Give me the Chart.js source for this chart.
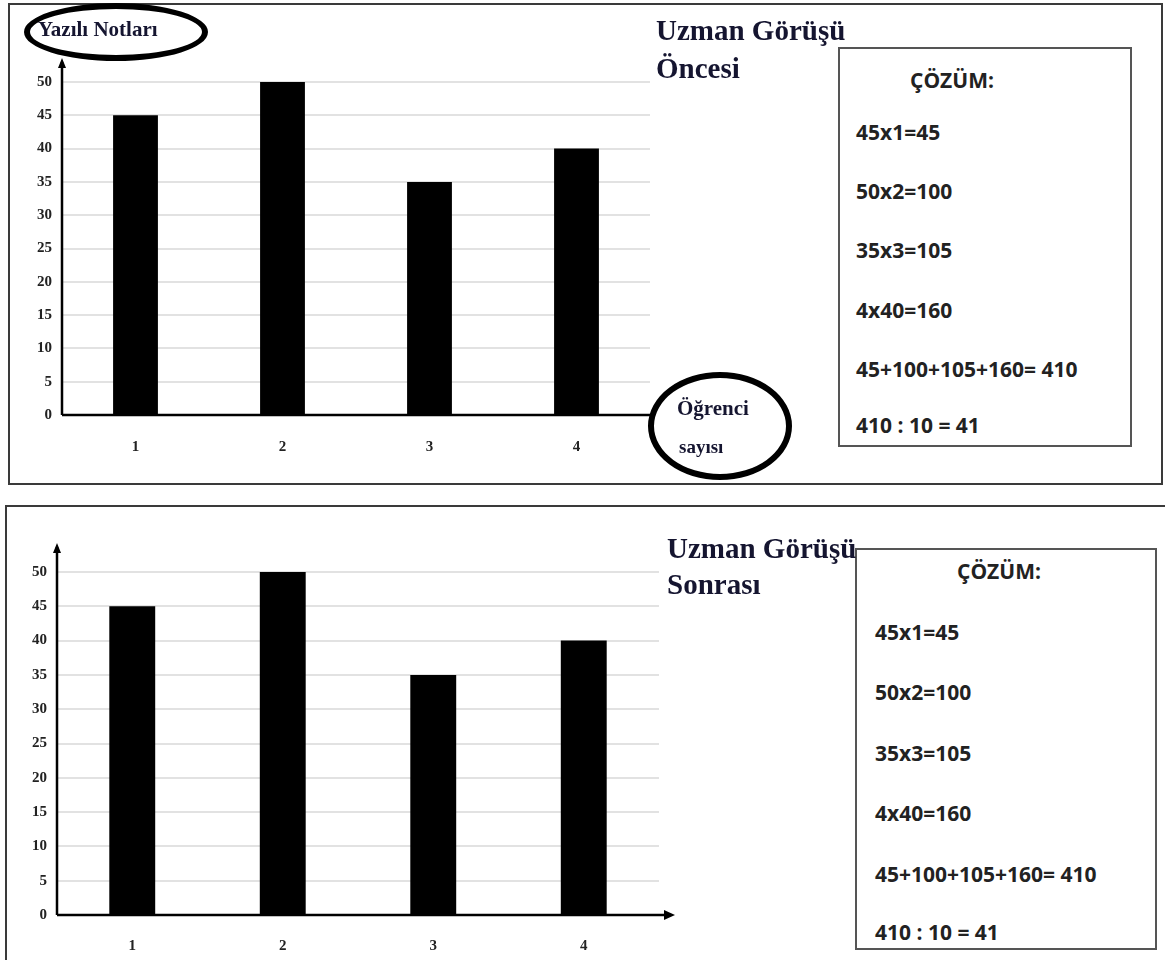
<!DOCTYPE html>
<html>
<head>
<meta charset="utf-8">
<script src="https://cdn.jsdelivr.net/npm/chart.js@4.4.1/dist/chart.umd.min.js"></script>
<style>
    body { margin: 0; background: #fff; width: 1165px; height: 960px; overflow: hidden; position: relative; }
    .frame { position: absolute; border: 2px solid #3a3a3a; box-sizing: border-box; }
    .plot { position: absolute; }
    .title { position: absolute; font-family: 'Liberation Serif', serif; font-weight: bold; color: #151530; line-height: 38px; white-space: nowrap; }
    .box { position: absolute; border: 2px solid #555; box-sizing: border-box; background: #fff; }
    .box div { position: absolute; font-family: 'Open Sans', sans-serif; font-weight: bold; font-size: 21px; color: #222; white-space: nowrap; transform: translateY(-50%); }
    .oval { position: absolute; border: 6px solid #000; border-radius: 50%; box-sizing: border-box; }
    .label { position: absolute; font-family: 'Liberation Serif', serif; font-weight: bold; color: #151530; white-space: nowrap; }
</style>
</head>
<body>

<div class="frame" style="left:8px; top:3px; width:1155px; height:482px;"></div>
<div class="frame" style="left:5px; top:505px; width:1175px; height:470px;"></div>

<div class="plot" style="left:0; top:0; width:720px; height:480px;"><canvas id="chartBefore"></canvas></div>
<div class="plot" style="left:0; top:500px; width:720px; height:460px;"><canvas id="chartAfter"></canvas></div>

<div class="box" id="boxBefore" style="left:838px; top:47px; width:294px; height:400px;"></div>
<div class="box" id="boxAfter" style="left:855px; top:548px; width:302px; height:402px;"></div>

<div class="title" style="left:656px; top:11px; font-size:29px;">Uzman Görüşü<br>Öncesi</div>
<div class="title" style="left:667px; top:530px; font-size:29px; line-height:36px;">Uzman Görüşü<br>Sonrası</div>

<div class="oval" style="left:24px; top:3px; width:184px; height:58px;"></div>
<div class="label" style="left:38px; top:17px; font-size:21px;">Yazılı Notları</div>

<div class="oval" style="left:648px; top:372px; width:144px; height:108px;"></div>
<div class="label" style="left:677px; top:396px; font-size:21px;">Öğrenci</div>
<div class="label" style="left:679px; top:436px; font-size:19px;">sayısı</div>

<script>
// data
const categories = ['1', '2', '3', '4'];
const scoresBefore = [45, 50, 35, 40];
const scoresAfter = [45, 50, 35, 40];
const yMax = 50;
const yStep = 5;
const solutionTitle = 'ÇÖZÜM:';
const solutionLines = ['45x1=45', '50x2=100', '35x3=105', '4x40=160', '45+100+105+160= 410', '410 : 10 = 41'];

// solution boxes
function fillBox(id, titleX, titleY, textX, lineYs) {
    const box = document.getElementById(id);
    const t = document.createElement('div');
    t.textContent = solutionTitle;
    t.style.left = titleX + 'px';
    t.style.top = titleY + 'px';
    box.appendChild(t);
    solutionLines.forEach((line, i) => {
        const d = document.createElement('div');
        d.textContent = line;
        d.style.left = textX + 'px';
        d.style.top = lineYs[i] + 'px';
        box.appendChild(d);
    });
}
fillBox('boxBefore', 70, 31, 16, [83, 142, 201, 261, 320, 376]);
fillBox('boxAfter', 100, 21, 18, [82, 142, 203, 263, 324, 382]);

// axis lines with arrows
const axisArrows = {
    id: 'axisArrows',
    afterDraw(chart, args, opts) {
        const { ctx, chartArea: a } = chart;
        ctx.save();
        ctx.strokeStyle = '#000';
        ctx.fillStyle = '#000';
        ctx.lineWidth = 2.5;
        const yTop = a.top - opts.yExtra;
        const xEnd = a.right + opts.xExtra;
        ctx.beginPath();
        ctx.moveTo(a.left, a.bottom);
        ctx.lineTo(a.left, yTop + 4);
        ctx.moveTo(a.left, a.bottom);
        ctx.lineTo(xEnd - (opts.xArrow ? 6 : 0), a.bottom);
        ctx.stroke();
        ctx.beginPath();
        ctx.moveTo(a.left, yTop);
        ctx.lineTo(a.left - 4, yTop + 10);
        ctx.lineTo(a.left + 4, yTop + 10);
        ctx.closePath();
        ctx.fill();
        if (opts.xArrow) {
            ctx.beginPath();
            ctx.moveTo(xEnd, a.bottom);
            ctx.lineTo(xEnd - 11, a.bottom - 5);
            ctx.lineTo(xEnd - 11, a.bottom + 5);
            ctx.closePath();
            ctx.fill();
        }
        ctx.restore();
    }
};

function makeChart(id, values, g) {
    return new Chart(document.getElementById(id), {
        type: 'bar',
        data: {
            labels: categories,
            datasets: [{
                data: values,
                backgroundColor: '#000',
                borderWidth: 0,
                categoryPercentage: 1,
                barPercentage: 0.305
            }]
        },
        options: {
            responsive: true,
            maintainAspectRatio: false,
            animation: false,
            layout: { padding: { left: 0, top: g.top, right: g.width - g.right, bottom: 0 } },
            plugins: {
                legend: { display: false },
                tooltip: { enabled: false },
                axisArrows: { yExtra: g.yExtra, xExtra: g.xExtra, xArrow: g.xArrow }
            },
            scales: {
                x: {
                    grid: { display: false },
                    border: { display: false },
                    ticks: { color: '#222', padding: g.xPad, font: { family: 'Liberation Serif', weight: 'bold', size: 15 } },
                    afterFit: s => { s.height = g.height - g.bottom; }
                },
                y: {
                    min: 0,
                    max: yMax,
                    grid: {
                        drawTicks: false,
                        lineWidth: 2,
                        color: c => c.tick && c.tick.value === 0 ? 'rgba(0,0,0,0)' : '#e2e2e2'
                    },
                    border: { display: false },
                    ticks: { stepSize: yStep, color: '#222', padding: 10, font: { family: 'Liberation Serif', weight: 'bold', size: 15 } },
                    afterFit: s => { s.width = g.left; }
                }
            }
        },
        plugins: [axisArrows]
    });
}

makeChart('chartBefore', scoresBefore, { width: 720, height: 480, left: 62, right: 650, top: 82, bottom: 415, yExtra: 24, xExtra: 0, xArrow: false, xPad: 15 });
makeChart('chartAfter', scoresAfter, { width: 720, height: 460, left: 57, right: 659, top: 72, bottom: 415, yExtra: 29, xExtra: 16, xArrow: true, xPad: 14 });
</script>
</body>
</html>
